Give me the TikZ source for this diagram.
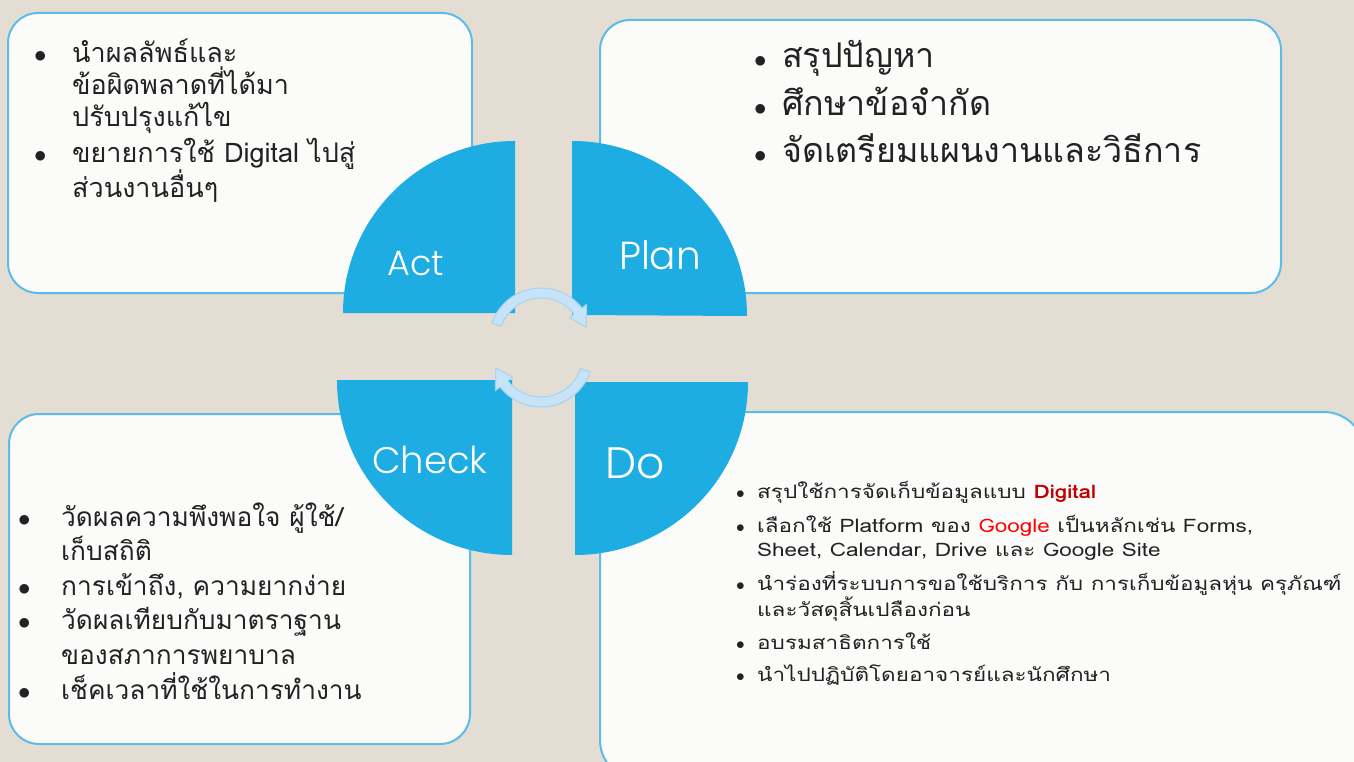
\documentclass[tikz,border=0pt]{standalone}
\usepackage{fontspec}
\newfontfamily\thaifont[Script=Thai]{Loma}
\newfontfamily\thaiwide[Script=Thai, FakeStretch=1.21]{Loma}
\newfontfamily\quadfont{Poppins Light}
\usepackage{tikz}

\definecolor{bgbeige}{HTML}{E3DDD3}
\definecolor{quadblue}{HTML}{1EADE3}
\definecolor{boxline}{HTML}{5BBCE8}
\definecolor{boxfill}{HTML}{FBFBFA}
\definecolor{arcline}{HTML}{A6D3F1}
\definecolor{arcfill}{HTML}{C6E3F7}
\definecolor{txtgray}{HTML}{222222}
\definecolor{digired}{HTML}{C00000}
\definecolor{googred}{HTML}{FF0000}

\newcommand{\bul}[1][38pt]{\makebox[#1][l]{$\bullet$}}
\newcommand{\ind}[1][38pt]{\hspace*{#1}}

\tikzset{
	panel/.style={draw=boxline, line width=2pt, fill=boxfill, rounded corners=30pt},
	quarter/.style={fill=quadblue},
	quadlabel/.style={text=white, inner sep=0pt, font=\quadfont\fontsize{#1}{#1}\selectfont},
	itemtext/.style={align=left, anchor=base west, inner sep=0pt, text=txtgray},
	cyclearc/.style={draw=arcline, fill=arcfill, line width=1pt, line join=round}
}

\begin{document}
\begin{tikzpicture}[x=1pt, y=1pt]

	% Page and background
	\useasboundingbox (0,0) rectangle (1354,-762);
	\fill [bgbeige] (0,0) rectangle (1354,-762);

	% Text panels
	\draw [panel] (8,-13) rectangle (472,-293);
	\draw [panel] (600,-20) rectangle (1281,-293);
	\draw [panel] (9,-414) rectangle (470,-744);
	\draw [panel, rounded corners=40pt] (600,-412) rectangle (1364,-780);

	% Quarter circles
	\fill [quarter] (515,-313) -- (343,-313) arc [start angle=180, end angle=90, radius=172pt] -- cycle;
	\fill [quarter] (572,-315) -- (572,-141) arc [start angle=90, end angle=0, radius=175pt] -- cycle;
	\fill [quarter] (512,-380) -- (337,-380) arc [start angle=180, end angle=270, radius=175pt] -- cycle;
	\fill [quarter] (575,-382) -- (748,-382) arc [start angle=0, end angle=-90, radius=173pt] -- cycle;

	%Quarter labels
	\node [quadlabel=35] (act) at (416,-264) {Act};
	\node [quadlabel=39] (plan) at (660,-255) {Plan};
	\node [quadlabel=37] (check) at (430,-460) {Check};
	\node [quadlabel=44] (do) at (635,-463) {Do};

	%Cycle arrows
	\coordinate (topring) at (541,-340);
	\coordinate (lowring) at (541,-355);
	\draw [cyclearc] ([shift={(161:52pt)}]topring) arc [start angle=161, end angle=38, radius=52pt]
		-- ([shift={(38:58pt)}]topring) -- ([shift={(16:47pt)}]topring) -- ([shift={(38:36pt)}]topring)
		-- ([shift={(38:42pt)}]topring) arc [start angle=38, end angle=161, radius=42pt] -- cycle;
	\draw [cyclearc] ([shift={(-19:52pt)}]lowring) arc [start angle=-19, end angle=-142, radius=52pt]
		-- ([shift={(-142:58pt)}]lowring) -- ([shift={(-164:47pt)}]lowring) -- ([shift={(-142:36pt)}]lowring)
		-- ([shift={(-142:42pt)}]lowring) arc [start angle=-142, end angle=-19, radius=42pt] -- cycle;

	%Act items (placed by the baseline of the last line)
	\node [itemtext, font=\thaifont\fontsize{27}{32}\selectfont] (actlist) at (34,-198) {\bul นำผลลัพธ์และ\\
		\ind ข้อผิดพลาดที่ได้มา\\
		\ind ปรับปรุงแก้ไข\\[4pt]
		\bul ขยายการใช้ Digital ไปสู่\\
		\ind ส่วนงานอื่นๆ};

	%Plan items
	\node [itemtext, font=\thaifont\fontsize{34}{47.5}\selectfont] (planlist) at (754,-163) {\bul[28pt]สรุปปัญหา\\
		\bul[28pt]ศึกษาข้อจำกัด\\
		\bul[28pt]จัดเตรียมแผนงานและวิธีการ};

	%Check items
	\node [itemtext, font=\thaifont\fontsize{26.3}{34.6}\selectfont] (checklist) at (18,-699) {\bul[43pt]วัดผลความพึงพอใจ ผู้ใช้/\\
		\ind[43pt]เก็บสถิติ\\
		\bul[43pt]การเข้าถึง, ความยากง่าย\\
		\bul[43pt]วัดผลเทียบกับมาตราฐาน\\
		\ind[43pt]ของสภาการพยาบาล\\
		\bul[43pt]เช็คเวลาที่ใช้ในการทำงาน};

	%Do items
	\node [itemtext, font=\thaiwide\fontsize{18.6}{24}\selectfont] (dolist) at (736,-681) {\bul[21pt]สรุปใช้การจัดเก็บข้อมูลแบบ {\bfseries\color{digired}Digital}\\[10pt]
		\bul[21pt]เลือกใช้ Platform ของ {\color{googred}Google} เป็นหลักเช่น Forms,\\
		\ind[21pt]Sheet, Calendar, Drive และ Google Site\\[10pt]
		\bul[21pt]นำร่องที่ระบบการขอใช้บริการ กับ การเก็บข้อมูลหุ่น ครุภัณฑ์\\
		\ind[21pt]และวัสดุสิ้นเปลืองก่อน\\[9pt]
		\bul[21pt]อบรมสาธิตการใช้\\[8pt]
		\bul[21pt]นำไปปฏิบัติโดยอาจารย์และนักศึกษา};

\end{tikzpicture}
\end{document}
